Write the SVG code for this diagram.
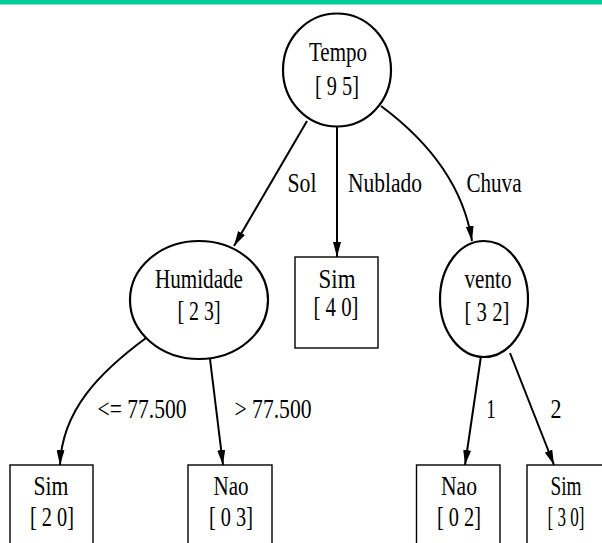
<svg xmlns="http://www.w3.org/2000/svg" width="602" height="543" viewBox="0 0 602 543">
  <style>
    .node { fill: #fff; stroke: #000; stroke-width: 2.2; }
    .leaf { fill: #fff; stroke: #000; stroke-width: 1.4; }
    .edge { fill: none; stroke: #000; stroke-width: 2; }
    text { font-family: "Liberation Serif", "Times New Roman", serif; font-size: 27px; fill: #000; text-anchor: middle; }
  </style>
  <defs>
    <marker id="arrow" viewBox="0 0 15 8" refX="15" refY="4" markerWidth="15" markerHeight="8" markerUnits="userSpaceOnUse" orient="auto">
      <path d="M0,0 L15,4 L0,8 Z" fill="#000"/>
    </marker>
  </defs>

  <rect x="0" y="0" width="602" height="543" fill="#fff"/>
  <rect x="0" y="0" width="602" height="4.5" fill="#00cc99"/>

  <!-- connectors -->
  <g id="edges">
    <path class="edge" d="M307,121 L234,246" marker-end="url(#arrow)"/>
    <path class="edge" d="M337,127 L337,257" marker-end="url(#arrow)"/>
    <path class="edge" d="M381,106 C420,135 462,178 472,241" marker-end="url(#arrow)"/>
    <path class="edge" d="M146,338 C100,372 62,410 60,465" marker-end="url(#arrow)"/>
    <path class="edge" d="M210,359 L223,465" marker-end="url(#arrow)"/>
    <path class="edge" d="M481,356 L465,465" marker-end="url(#arrow)"/>
    <path class="edge" d="M510,353 L554,465" marker-end="url(#arrow)"/>

    <text x="302" y="192" textLength="29" lengthAdjust="spacingAndGlyphs">Sol</text>
    <text x="385" y="192" textLength="74" lengthAdjust="spacingAndGlyphs">Nublado</text>
    <text x="494" y="192" textLength="55" lengthAdjust="spacingAndGlyphs">Chuva</text>
    <text x="142" y="418" textLength="89" lengthAdjust="spacingAndGlyphs">&lt;= 77.500</text>
    <text x="273" y="418" textLength="77" lengthAdjust="spacingAndGlyphs">&gt; 77.500</text>
    <text x="491" y="418" textLength="9" lengthAdjust="spacingAndGlyphs">1</text>
    <text x="556" y="418" textLength="11" lengthAdjust="spacingAndGlyphs">2</text>
  </g>

  <g id="tempo">
    <ellipse class="node" cx="337" cy="70" rx="54" ry="56.5"/>
    <text x="338" y="61" textLength="58" lengthAdjust="spacingAndGlyphs">Tempo</text>
    <text x="337" y="95" textLength="44" lengthAdjust="spacingAndGlyphs">[ 9 5]</text>
  </g>

  <g id="humidade">
    <ellipse class="node" cx="199" cy="300" rx="69" ry="59"/>
    <text x="199" y="288" textLength="88" lengthAdjust="spacingAndGlyphs">Humidade</text>
    <text x="199" y="320" textLength="43" lengthAdjust="spacingAndGlyphs">[ 2 3]</text>
  </g>

  <g id="sim-nublado">
    <rect class="leaf" x="295" y="257" width="83" height="91"/>
    <text x="337" y="288" textLength="37" lengthAdjust="spacingAndGlyphs">Sim</text>
    <text x="336" y="316" textLength="45" lengthAdjust="spacingAndGlyphs">[ 4 0]</text>
  </g>

  <g id="vento">
    <ellipse class="node" cx="484" cy="299" rx="44" ry="58"/>
    <text x="488" y="288" textLength="47" lengthAdjust="spacingAndGlyphs">vento</text>
    <text x="487" y="321" textLength="45" lengthAdjust="spacingAndGlyphs">[ 3 2]</text>
  </g>

  <g id="sim-baixa">
    <rect class="leaf" x="10" y="465" width="83" height="90"/>
    <text x="51" y="495" textLength="35" lengthAdjust="spacingAndGlyphs">Sim</text>
    <text x="52" y="526" textLength="44" lengthAdjust="spacingAndGlyphs">[ 2 0]</text>
  </g>

  <g id="nao-alta">
    <rect class="leaf" x="188" y="465" width="84" height="90"/>
    <text x="231" y="495" textLength="35" lengthAdjust="spacingAndGlyphs">Nao</text>
    <text x="231" y="526" textLength="44" lengthAdjust="spacingAndGlyphs">[ 0 3]</text>
  </g>

  <g id="nao-vento">
    <rect class="leaf" x="416.5" y="465" width="83.5" height="90"/>
    <text x="459" y="495" textLength="36" lengthAdjust="spacingAndGlyphs">Nao</text>
    <text x="459" y="526" textLength="44" lengthAdjust="spacingAndGlyphs">[ 0 2]</text>
  </g>

  <g id="sim-vento">
    <rect class="leaf" x="527" y="465" width="90" height="90"/>
    <text x="566" y="495" textLength="31" lengthAdjust="spacingAndGlyphs">Sim</text>
    <text x="566" y="526" textLength="37" lengthAdjust="spacingAndGlyphs">[ 3 0]</text>
  </g>
</svg>
